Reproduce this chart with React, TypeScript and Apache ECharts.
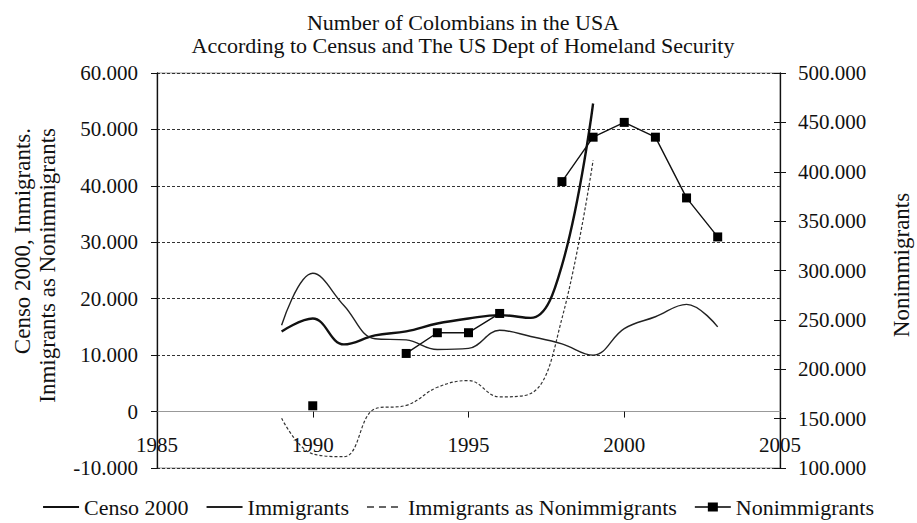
import React, { useEffect, useRef } from "react";
import * as echarts from "echarts";

const years = [1989, 1990, 1991, 1992, 1993, 1994, 1995, 1996, 1997, 1998, 1999, 2000, 2001, 2002, 2003];
const censo2000 = [14200, 16500, 11900, 13500, 14200, 15600, 16500, 17100, 16600, 25900, 54600, null, null, null, null];
const immigrants = [15300, 24500, 18800, 12900, 12700, 11000, 11200, 14400, 13300, 12000, 10000, 14700, 16800, 19000, 15000];
const immigrantsAsNonimm = [-1200, -7500, -8000, 500, 1100, 4300, 5500, 2600, 3200, 16500, 44500, null, null, null, null];
const nonimmigrants = [null, 163000, null, null, 216000, 237000, 237000, 256500, null, 390000, 435000, 450000, 435000, 373500, 334000];

const titleLines = ["Number of Colombians in the USA", "According to Census and The US Dept of Homeland Security"];
const leftNameLines = ["Censo 2000, Inmigrants.", "Inmigrants as Nonimmigrants"];
const rightName = "Nonimmigrants";
const legendNames = ["Censo 2000", "Immigrants", "Immigrants as Nonimmigrants", "Nonimmigrants"];

const FONT = "Liberation Serif";

const fmt = (v: number) => {
  const neg = v < 0;
  const s = Math.abs(Math.round(v)).toString().replace(/\B(?=(\d{3})+(?!\d))/g, ".");
  return (neg ? "-" : "") + s;
};

const pairs = (arr: (number | null)[]) => years.map((y, i) => [y, arr[i]]);

const ICON_SOLID = "path://M0,0M36,12M0,5H36V7H0Z";
const ICON_DASH = "path://M0,0M36,12M0,5.3H7V6.7H0ZM12,5.3H19V6.7H12ZM24,5.3H31V6.7H24Z";
const ICON_SQUARE = "path://M0,0M36,12M0,5.25H36V6.75H0ZM13,1.5H23V10.5H13Z";

export default function App() {
  const ref = useRef<HTMLDivElement>(null);
  useEffect(() => {
    if (!ref.current) return;
    const chart = echarts.init(ref.current, undefined, { renderer: "svg" });
    const labelStyle = { fontFamily: FONT, fontSize: 21, color: "#111" };
    const gridTop = 73;
    const gridBottom = 55;
    const gridH = 523 - gridTop - gridBottom;
    const yMin = -10000;
    const yMax = 60000;
    const zeroOffset = -(gridH * (0 - yMin)) / (yMax - yMin);
    chart.setOption({
      animation: false,
      backgroundColor: "#fff",
      title: {
        text: titleLines.join("\n"),
        left: 458,
        top: 6,
        textAlign: "center",
        textStyle: { fontFamily: FONT, fontSize: 22, fontWeight: "normal", color: "#111", lineHeight: 23 },
      },
      legend: {
        top: 494,
        left: "center",
        padding: [2, 5, 2, 5],
        itemWidth: 36,
        itemHeight: 12,
        itemGap: 18,
        textStyle: { fontFamily: FONT, fontSize: 22, color: "#111" },
        data: [
          { name: legendNames[0], icon: ICON_SOLID },
          { name: legendNames[1], icon: ICON_SOLID },
          { name: legendNames[2], icon: ICON_DASH },
          { name: legendNames[3], icon: ICON_SQUARE },
        ],
      },
      grid: {
        left: 157,
        right: 137,
        top: gridTop,
        bottom: gridBottom,
        show: true,
        borderColor: "#999",
        borderWidth: 1,
      },
      xAxis: {
        type: "value",
        min: 1985,
        max: 2005,
        interval: 5,
        offset: zeroOffset,
        axisLine: { onZero: false, lineStyle: { color: "#999", width: 1.2 } },
        axisTick: { show: true, length: 6, lineStyle: { color: "#111" } },
        axisLabel: { ...labelStyle, margin: 23, formatter: (v: number) => String(v) },
        splitLine: { show: false },
      },
      yAxis: [
        {
          type: "value",
          min: yMin,
          max: yMax,
          interval: 10000,
          position: "left",
          axisLine: { show: true, onZero: false, lineStyle: { color: "#111", width: 1.3 } },
          axisTick: { show: true, length: 6, lineStyle: { color: "#111" } },
          axisLabel: { ...labelStyle, margin: 19, formatter: fmt },
          splitLine: { show: true, lineStyle: { color: "#333", type: [3, 2], width: 1 } },
        },
        {
          type: "value",
          min: 100000,
          max: 500000,
          interval: 50000,
          position: "right",
          axisLine: { show: true, onZero: false, lineStyle: { color: "#111", width: 1.3 } },
          axisTick: { show: true, length: 6, lineStyle: { color: "#111" } },
          axisLabel: { ...labelStyle, margin: 18, formatter: fmt },
          splitLine: { show: false },
        },
        {
          type: "value",
          min: 100000,
          max: 500000,
          interval: 50000,
          position: "right",
          axisLine: { show: false, onZero: false },
          axisTick: { show: true, inside: true, length: 6, lineStyle: { color: "#111" } },
          axisLabel: { show: false },
          splitLine: { show: false },
        },
      ],
      graphic: [
        {
          type: "text",
          x: 22,
          y: 128,
          rotation: Math.PI / 2,
          style: { text: leftNameLines[0], font: `23px "${FONT}"`, fill: "#111", align: "right", verticalAlign: "middle" },
        },
        {
          type: "text",
          x: 47,
          y: 128,
          rotation: Math.PI / 2,
          style: { text: leftNameLines[1], font: `23px "${FONT}"`, fill: "#111", align: "right", verticalAlign: "middle" },
        },
        {
          type: "text",
          x: 901,
          y: 265,
          rotation: Math.PI / 2,
          style: { text: rightName, font: `23px "${FONT}"`, fill: "#111", align: "center", verticalAlign: "middle" },
        },
      ],
      series: [
        {
          name: legendNames[0],
          type: "line",
          yAxisIndex: 0,
          data: pairs(censo2000),
          smooth: 0.4,
          symbol: "none",
          connectNulls: false,
          lineStyle: { color: "#111", width: 2.4 },
          itemStyle: { color: "#111" },
        },
        {
          name: legendNames[1],
          type: "line",
          yAxisIndex: 0,
          data: pairs(immigrants),
          smooth: 0.4,
          symbol: "none",
          lineStyle: { color: "#222", width: 1.4 },
          itemStyle: { color: "#222" },
        },
        {
          name: legendNames[2],
          type: "line",
          yAxisIndex: 0,
          data: pairs(immigrantsAsNonimm),
          smooth: 0.4,
          symbol: "none",
          connectNulls: false,
          lineStyle: { color: "#333", width: 1.2, type: [3, 2] },
          itemStyle: { color: "#333" },
        },
        {
          name: legendNames[3],
          type: "line",
          yAxisIndex: 1,
          data: pairs(nonimmigrants),
          smooth: false,
          symbol: "rect",
          symbolSize: 9,
          showAllSymbol: true,
          connectNulls: false,
          lineStyle: { color: "#111", width: 1.4 },
          itemStyle: { color: "#000" },
          z: 5,
        },
      ],
    });
    return () => chart.dispose();
  }, []);
  return <div ref={ref} style={{ width: 917, height: 523, position: "absolute", left: 0, top: 0 }} />;
}
